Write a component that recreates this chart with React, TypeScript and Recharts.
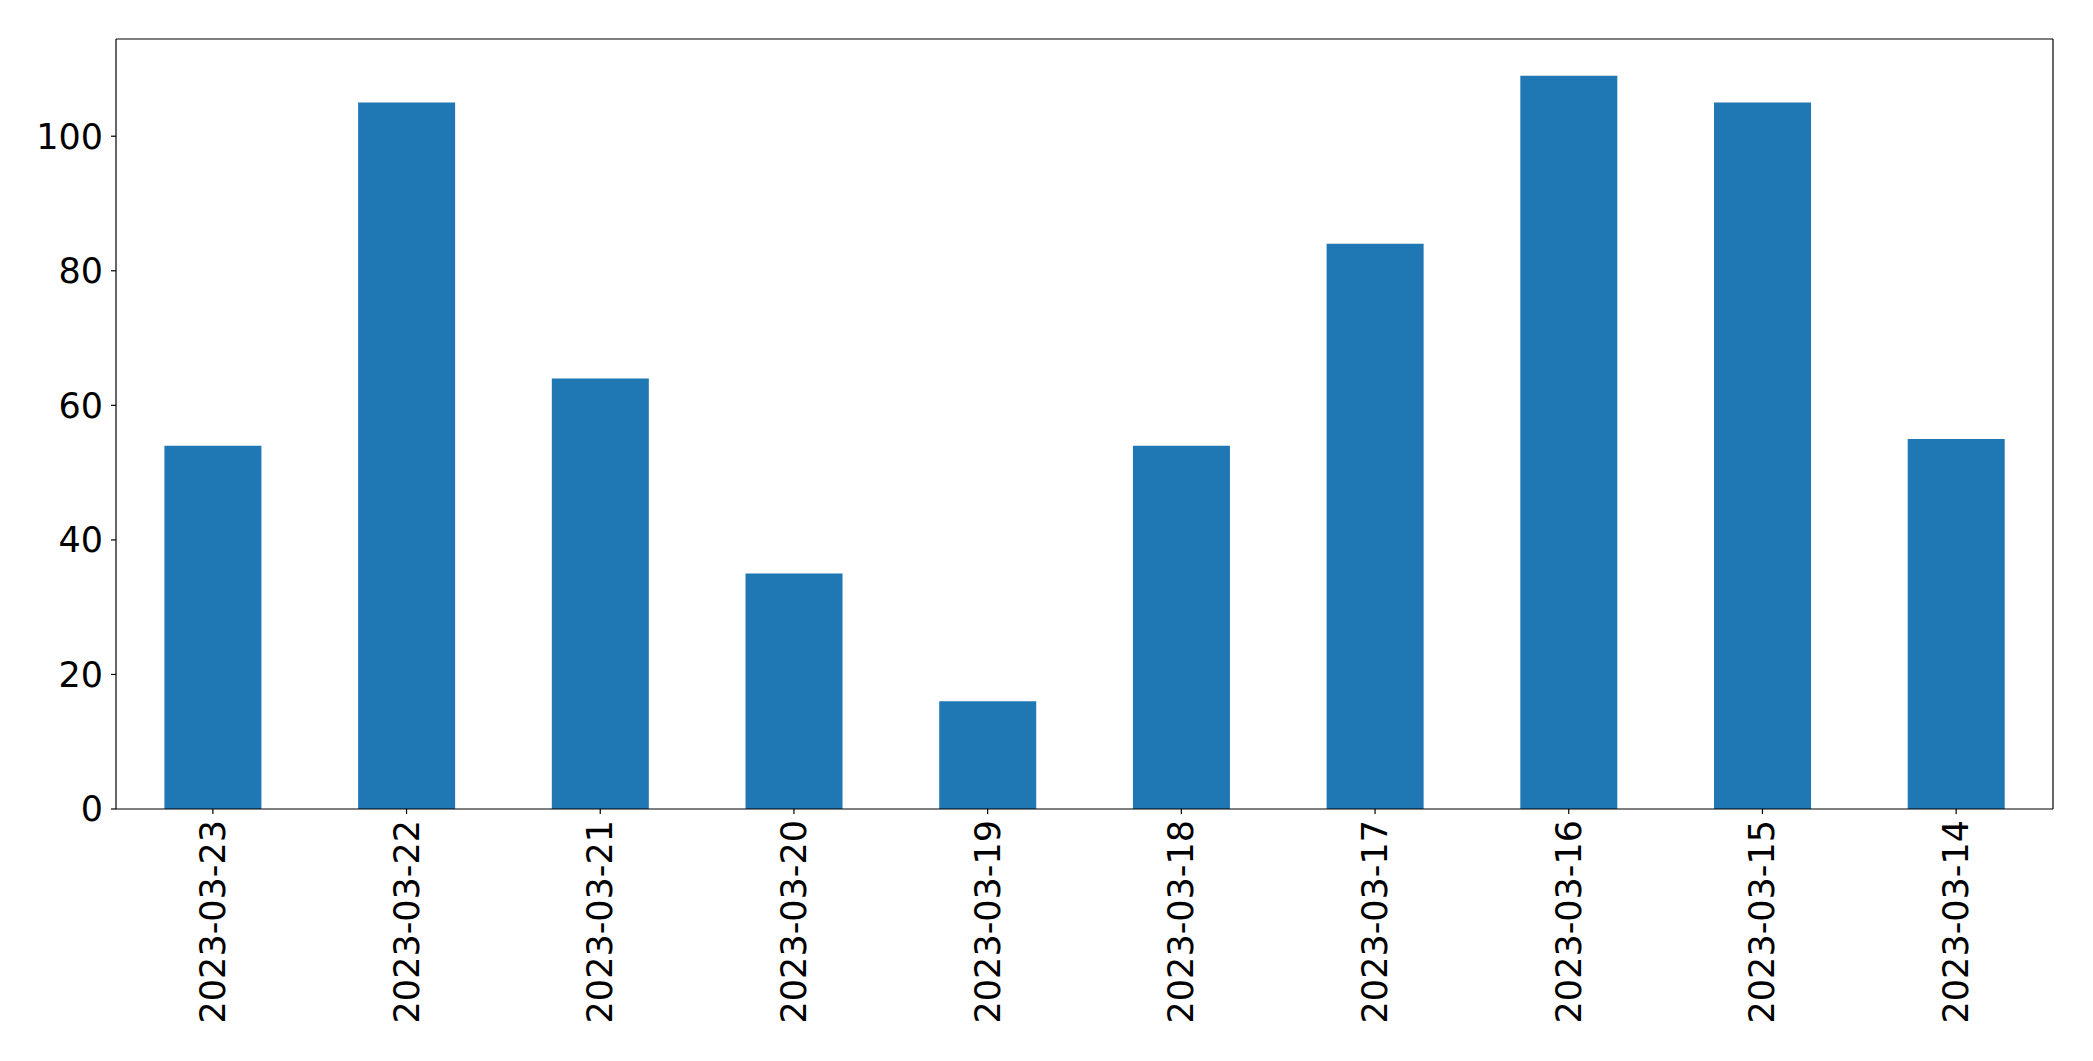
import React from "react";
import { BarChart, Bar, XAxis, YAxis, CartesianGrid } from "recharts";

const dates = [
  "2023-03-23",
  "2023-03-22",
  "2023-03-21",
  "2023-03-20",
  "2023-03-19",
  "2023-03-18",
  "2023-03-17",
  "2023-03-16",
  "2023-03-15",
  "2023-03-14",
];
const counts = [54, 105, 64, 35, 16, 54, 84, 109, 105, 55];
const yTicks = [0, 20, 40, 60, 80, 100];
const yMax = 114.45;

const data = dates.map((d, i) => ({ date: d, value: counts[i] }));

const FONT = "DejaVu Sans";
const FS = 35;

const XTick = (props: any) => {
  const { x, y, payload } = props;
  return (
    <text
      x={x}
      y={y + 6}
      transform={`rotate(-90, ${x}, ${y + 6})`}
      textAnchor="end"
      dominantBaseline="central"
      fontFamily={FONT}
      fontSize={FS}
      fill="#000"
    >
      {payload.value}
    </text>
  );
};

const axisStroke = { stroke: "#000", strokeWidth: 1.2 };

export default function App() {
  return (
    <div style={{ position: "absolute", left: 0, top: 0, width: 2093, height: 1061, background: "#fff" }}>
      <BarChart
        width={2093}
        height={1061}
        data={data}
        margin={{ top: 39, right: 40, left: 0, bottom: 0 }}
        barCategoryGap="25%"
      >
        <CartesianGrid
          stroke="#000"
          strokeWidth={1.2}
          strokeDasharray=""
          horizontalCoordinatesGenerator={(p: any) => [p.offset.top]}
          verticalCoordinatesGenerator={(p: any) => [p.offset.left + p.offset.width]}
        />
        <XAxis
          dataKey="date"
          interval={0}
          height={252}
          tick={<XTick />}
          tickSize={5}
          tickMargin={0}
          axisLine={axisStroke}
          tickLine={axisStroke}
        />
        <YAxis
          width={116}
          domain={[0, yMax]}
          ticks={yTicks}
          tickSize={5}
          tickMargin={8}
          tick={{ fontFamily: FONT, fontSize: FS, fill: "#000" }}
          axisLine={axisStroke}
          tickLine={axisStroke}
        />
        <Bar dataKey="value" fill="#1f77b4" isAnimationActive={false} />
      </BarChart>
    </div>
  );
}
